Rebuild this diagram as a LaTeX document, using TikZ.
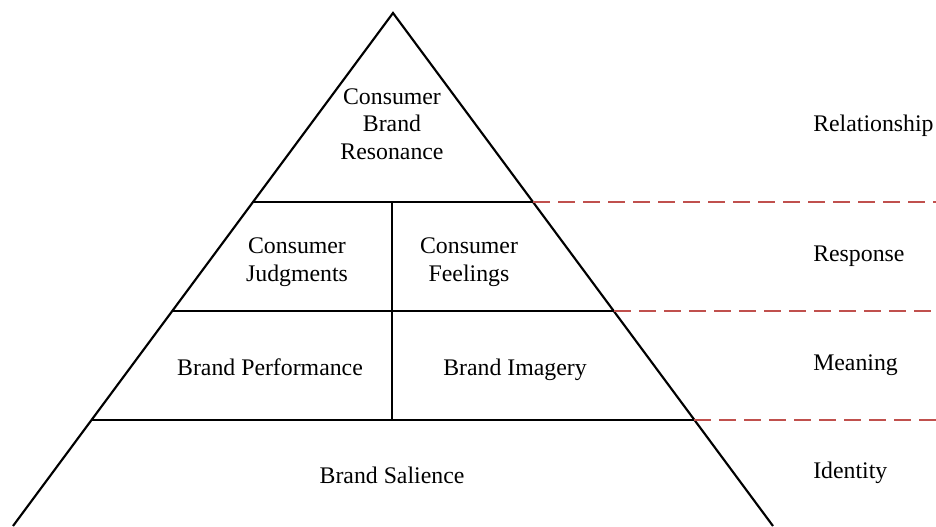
\documentclass[tikz,border=0pt]{standalone}
\usepackage{fontspec}
\setmainfont{Liberation Serif}
\usetikzlibrary{positioning}

\definecolor{dashred}{HTML}{C0504D}

\begin{document}
\begin{tikzpicture}[x=0.75pt,y=-0.75pt]
\useasboundingbox (0,0) rectangle (936,526);

% corners of the pyramid and the level lines
\coordinate (top) at (393,13);
\coordinate (bl)  at (13,526);
\coordinate (br)  at (773,526);
\coordinate (l1) at (253,202);  \coordinate (r1) at (533,202);
\coordinate (l2) at (172,311);  \coordinate (r2) at (614,311);
\coordinate (l3) at (92,420);   \coordinate (r3) at (694,420);
\coordinate (m1) at (392,202);  \coordinate (m3) at (392,420);
\coordinate (e1) at (936,202);
\coordinate (e2) at (936,311);
\coordinate (e3) at (936,420);

\begin{scope}[line width=1.6pt]
    \draw (bl) -- (top) -- (br);
    \draw (l1) -- (r1);
    \draw (l2) -- (r2);
    \draw (l3) -- (r3);
    \draw (m1) -- (m3);
\end{scope}

\begin{scope}[dashred,line width=1.5pt,dash pattern=on 12.75pt off 6pt]
    \draw (r1) -- (e1);
    \draw (r2) -- (e2);
    \draw (r3) -- (e3);
\end{scope}

\begin{scope}[every node/.style={align=center,inner sep=0pt,
              font=\fontsize{17.85pt}{20.6pt}\selectfont}]
    \node (res)  at (392,124) {Consumer\\Brand\\Resonance};
    \node (judg) at (297,262) {Consumer\\Judgments};
    \node (feel) at (469,262) {Consumer\\Feelings};
    \node[anchor=base] (perf) at (270,375) {Brand Performance};
    \node[anchor=base] (imag) at (515,375) {Brand Imagery};
    \node[anchor=base] (sal)  at (392,483) {Brand Salience};
\end{scope}

\begin{scope}[every node/.style={anchor=base west,inner sep=0pt,
              font=\fontsize{17.85pt}{20.6pt}\selectfont}]
    \node (relat) at (813,131) {Relationship};
    \node (respo) at (813,261) {Response};
    \node (meani) at (813,370) {Meaning};
    \node (ident) at (813,478) {Identity};
\end{scope}
\end{tikzpicture}
\end{document}
